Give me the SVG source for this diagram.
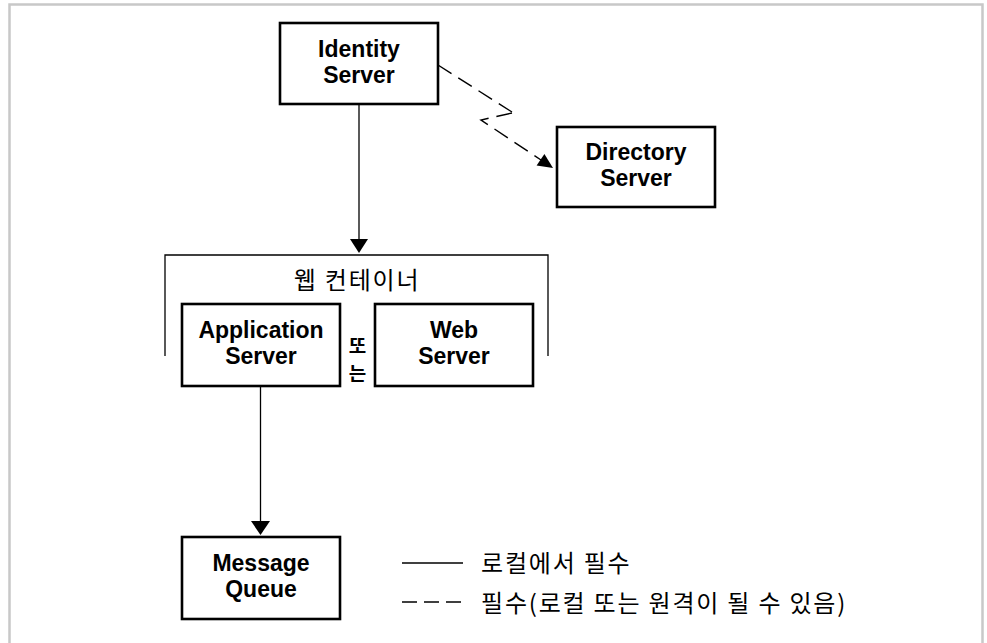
<svg xmlns="http://www.w3.org/2000/svg" width="987" height="643" viewBox="0 0 987 643">
<style>
.box{fill:#fff;stroke:#000;stroke-width:2.6}
.lbl{font-family:"Liberation Sans",Arial,sans-serif;font-weight:bold;font-size:23px;text-anchor:middle;fill:#000}
.ko{font-family:"Noto Sans CJK KR","Noto Sans",sans-serif;font-size:24px;letter-spacing:1.8px;fill:#000}
.kob{font-family:"Noto Sans CJK KR","Noto Sans",sans-serif;font-size:19px;font-weight:bold;text-anchor:middle;fill:#000}
.ln{fill:none;stroke:#000;stroke-width:1.3}
.dash{fill:none;stroke:#000;stroke-width:1.4;stroke-dasharray:16 8}
.frame{stroke:#c8c8c8;stroke-width:2.5;fill:none}
</style>
<rect width="987" height="643" fill="#fff"/>
<g id="frame">
<path class="frame" d="M9.5,643 V4.5 H982.5 V643"/>
</g>
<g id="identity-server">
<rect class="box" x="280" y="23" width="158" height="81"/>
<text class="lbl" x="359" y="57">Identity</text>
<text class="lbl" x="359" y="83">Server</text>
</g>
<g id="directory-server">
<rect class="box" x="557" y="127" width="158" height="80"/>
<text class="lbl" x="636" y="160">Directory</text>
<text class="lbl" x="636" y="186">Server</text>
</g>
<g id="web-container">
<path class="ln" d="M165,356 V255 H548 V356"/>
<text class="ko" x="357" y="289" text-anchor="middle">웹 컨테이너</text>
</g>
<g id="application-server">
<rect class="box" x="182" y="304" width="158" height="82"/>
<text class="lbl" x="261" y="338">Application</text>
<text class="lbl" x="261" y="364">Server</text>
</g>
<g id="or-label">
<text class="kob" x="357.5" y="353">또</text>
<text class="kob" x="357.5" y="381">는</text>
</g>
<g id="web-server">
<rect class="box" x="375" y="304" width="158" height="82"/>
<text class="lbl" x="454" y="338">Web</text>
<text class="lbl" x="454" y="364">Server</text>
</g>
<g id="message-queue">
<rect class="box" x="182" y="537" width="158" height="82"/>
<text class="lbl" x="261" y="571">Message</text>
<text class="lbl" x="261" y="597">Queue</text>
</g>
<g id="connectors">
<line class="ln" x1="359" y1="105" x2="359" y2="240"/>
<polygon points="350,239 368,239 359,253" fill="#000"/>
<line class="ln" x1="260.5" y1="387" x2="260.5" y2="522"/>
<polygon points="251,521 270,521 260.5,535" fill="#000"/>
<path class="dash" d="M438,65 L512,112"/>
<path class="dash" d="M512,113 L481,120 L541,160"/>
<polygon points="553,168 544.4,153.9 536.6,165.5" fill="#000"/>
</g>
<g id="legend">
<line class="ln" x1="402" y1="563" x2="463" y2="563"/>
<text class="ko" x="481" y="572">로컬에서 필수</text>
<line class="ln" x1="402" y1="602" x2="461" y2="602" stroke-dasharray="15 7"/>
<text class="ko" x="481" y="612">필수(로컬 또는 원격이 될 수 있음)</text>
</g>
</svg>
